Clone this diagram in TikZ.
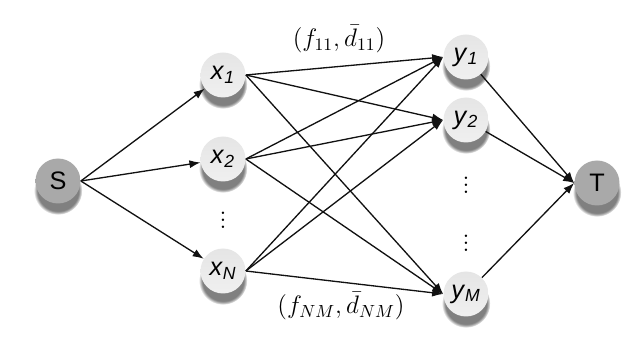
\documentclass[tikz,border=0pt]{standalone}
\usepackage{amsmath,amssymb}
\usepackage{fontspec}
\setsansfont{Liberation Sans}
\usepackage{xcolor}
\usepackage{tikz}
\usetikzlibrary{positioning,arrows.meta,shadows}
\definecolor{vlight}{HTML}{DADADA}
\definecolor{vdark}{HTML}{9A9A9A}
\definecolor{edge}{HTML}{111111}
\newcommand{\nlab}[2]{\textit{#1}\textsubscript{\textit{#2}}}

\begin{document}
\begin{tikzpicture}[
  x=0.02cm,y=-0.02cm,
  font=\fontsize{14}{16}\selectfont,
  vtx/.style={circle,minimum size=0.9cm,inner sep=0pt,font=\Large\sffamily,
    top color=vlight!70,bottom color=vlight!110!black,draw=none,
    circular drop shadow={shadow xshift=0pt,shadow yshift=-5pt,shadow scale=1.08,opacity=1}},
  term/.style={vtx,top color=vdark!85,bottom color=vdark!110!black},
  dts/.style={font=\Large,inner sep=0pt},
  arr/.style={-{Latex[length=2.2mm,width=1.6mm]},line width=0.75pt,edge}
]
\useasboundingbox (0,0) rectangle (640,340);
% source and sink
\node[term] (s) at (58,181) {S};
\node[term] (t) at (597,183) {T};
% left column
\node[vtx] (x1) at (223,75) {\nlab{x}{1}};
\node[vtx] (x2) at (223,159) {\nlab{x}{2}};
\node[dts] (xd) at (223,215) {$\vdots$};
\node[vtx] (xn) at (223,271) {\nlab{x}{N}};
% right column
\node[vtx] (y1) at (466,57) {\nlab{y}{1}};
\node[vtx] (y2) at (466,120) {\nlab{y}{2}};
\node[dts] (yd1) at (466,180) {$\vdots$};
\node[dts] (yd2) at (466,238) {$\vdots$};
\node[vtx] (ym) at (466,294) {\nlab{y}{M}};
% edges
\foreach \v in {x1,x2,xn} \draw[arr] (s.east) -- (\v);
\foreach \u in {x1,x2,xn}
  \foreach \v in {y1,y2,ym} \draw[arr] (\u.east) -- (\v.west);
\foreach \u in {y1,y2,ym} \draw[arr] (\u) -- (t.west);
% edge labels
\node (l11) at (339,39) {$(f_{11},\bar{d}_{11})$};
\node (lnm) at (341,306) {$(f_{NM},\bar{d}_{NM})$};
\end{tikzpicture}
\end{document}
